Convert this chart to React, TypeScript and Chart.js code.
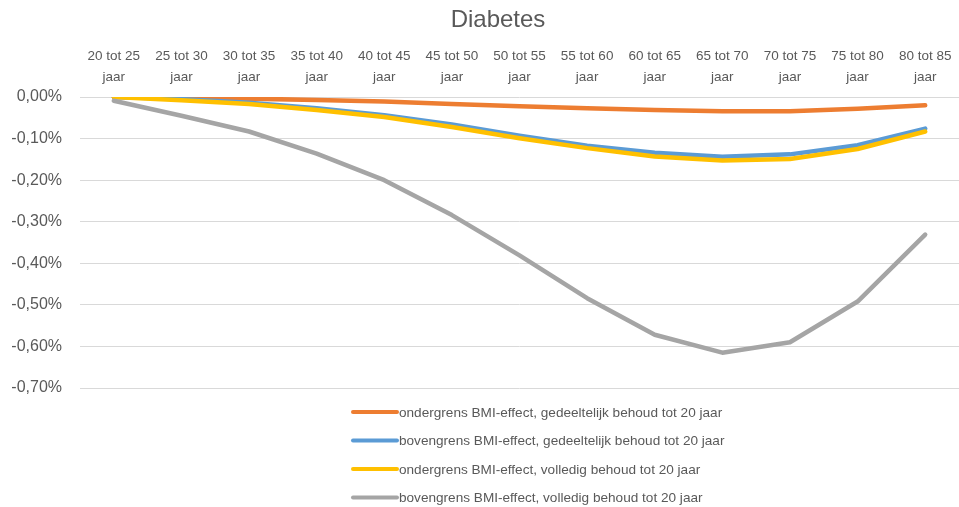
import React, { useEffect, useRef } from "react";
import { Chart, registerables } from "chart.js";

Chart.register(...registerables);

const chartTitle = "Diabetes";
const ageGroups = [
  "20 tot 25", "25 tot 30", "30 tot 35", "35 tot 40", "40 tot 45", "45 tot 50", "50 tot 55",
  "55 tot 60", "60 tot 65", "65 tot 70", "70 tot 75", "75 tot 80", "80 tot 85",
];
const ageSuffix = "jaar";

const seriesNames = [
  "ondergrens BMI-effect, gedeeltelijk behoud tot 20 jaar",
  "bovengrens BMI-effect, gedeeltelijk behoud tot 20 jaar",
  "ondergrens BMI-effect, volledig behoud tot 20 jaar",
  "bovengrens BMI-effect, volledig behoud tot 20 jaar",
];
const seriesColors = ["#ED7D31", "#5B9BD5", "#FFC000", "#A5A5A5"];

const ondergrensGedeeltelijk = [0, -0.002, -0.004, -0.007, -0.011, -0.017, -0.022, -0.027, -0.031, -0.034, -0.034, -0.028, -0.020];
const bovengrensGedeeltelijk = [0, -0.005, -0.014, -0.027, -0.044, -0.066, -0.093, -0.117, -0.134, -0.144, -0.138, -0.116, -0.076];
const ondergrensVolledig = [0, -0.008, -0.017, -0.031, -0.048, -0.072, -0.099, -0.123, -0.143, -0.153, -0.149, -0.125, -0.083];
const bovengrensVolledig = [-0.009, -0.045, -0.083, -0.136, -0.2, -0.284, -0.381, -0.484, -0.572, -0.615, -0.59, -0.492, -0.331];

const yMin = -0.7;
const yMax = 0;
const yStep = 0.1;

const textColor = "#595959";
const fontFamily = "'Liberation Sans', Arial, sans-serif";

const formatPct = (v: number) => {
  const s = Math.abs(v) < 1e-9 ? "0.00" : v.toFixed(2);
  return s.replace(".", ",") + "%";
};

const titleAndLegendPlugin = {
  id: "titleAndLegend",
  afterDraw(chart: any) {
    const ctx = chart.ctx as CanvasRenderingContext2D;
    ctx.save();
    // title
    ctx.fillStyle = textColor;
    ctx.font = `24px ${fontFamily}`;
    ctx.textAlign = "center";
    ctx.textBaseline = "middle";
    ctx.fillText(chartTitle, 498, 20);
    // legend
    const x0 = 351;
    const swatch = 46;
    const y0 = 412;
    const rowH = 28.5;
    ctx.font = `13.6px ${fontFamily}`;
    ctx.textAlign = "left";
    chart.data.datasets.forEach((ds: any, i: number) => {
      const y = y0 + i * rowH;
      ctx.strokeStyle = ds.borderColor;
      ctx.lineWidth = 4;
      ctx.lineCap = "round";
      ctx.beginPath();
      ctx.moveTo(x0 + 2, y);
      ctx.lineTo(x0 + swatch, y);
      ctx.stroke();
      ctx.fillStyle = textColor;
      ctx.fillText(ds.label, x0 + swatch + 2, y + 1);
    });
    ctx.restore();
  },
};

export default function App() {
  const ref = useRef<HTMLCanvasElement | null>(null);

  useEffect(() => {
    if (!ref.current) return;
    const values = [ondergrensGedeeltelijk, bovengrensGedeeltelijk, ondergrensVolledig, bovengrensVolledig];
    const chart = new Chart(ref.current, {
      type: "line",
      data: {
        labels: ageGroups.map((a) => [a, ageSuffix]),
        datasets: values.map((v, i) => ({
          label: seriesNames[i],
          data: v,
          borderColor: seriesColors[i],
          backgroundColor: seriesColors[i],
          borderWidth: 4.5,
          pointRadius: 0,
          pointHoverRadius: 0,
          tension: 0,
          borderCapStyle: "round" as const,
          borderJoinStyle: "round" as const,
          order: values.length - i,
        })),
      },
      options: {
        responsive: false,
        animation: false,
        layout: { padding: { top: 40, left: 0, right: 0, bottom: 119 } },
        plugins: {
          legend: { display: false },
          title: { display: false },
          tooltip: { enabled: false },
        },
        scales: {
          x: {
            position: "top",
            offset: true,
            grid: { display: false, drawTicks: false },
            border: { display: false },
            ticks: {
              color: textColor,
              font: { family: fontFamily, size: 13.5, lineHeight: 1.5 },
              padding: 10,
              maxRotation: 0,
              autoSkip: false,
            },
            afterFit: (scale: any) => {
              scale.height = 57;
              scale.paddingLeft = 0;
              scale.paddingRight = 0;
            },
          },
          y: {
            min: yMin,
            max: yMax,
            grid: { color: "#D9D9D9", lineWidth: 1, drawTicks: false },
            border: { display: false },
            ticks: {
              stepSize: yStep,
              color: textColor,
              font: { family: fontFamily, size: 16 },
              padding: 18,
              callback: (v: any) => formatPct(Number(v)),
            },
            afterFit: (scale: any) => {
              scale.width = 80;
            },
          },
        },
      },
      plugins: [titleAndLegendPlugin],
    });
    return () => chart.destroy();
  }, []);

  return (
    <div style={{ position: "absolute", left: 0, top: 0, width: 959, height: 507, background: "#fff" }}>
      <canvas ref={ref} width={959} height={507} />
    </div>
  );
}
